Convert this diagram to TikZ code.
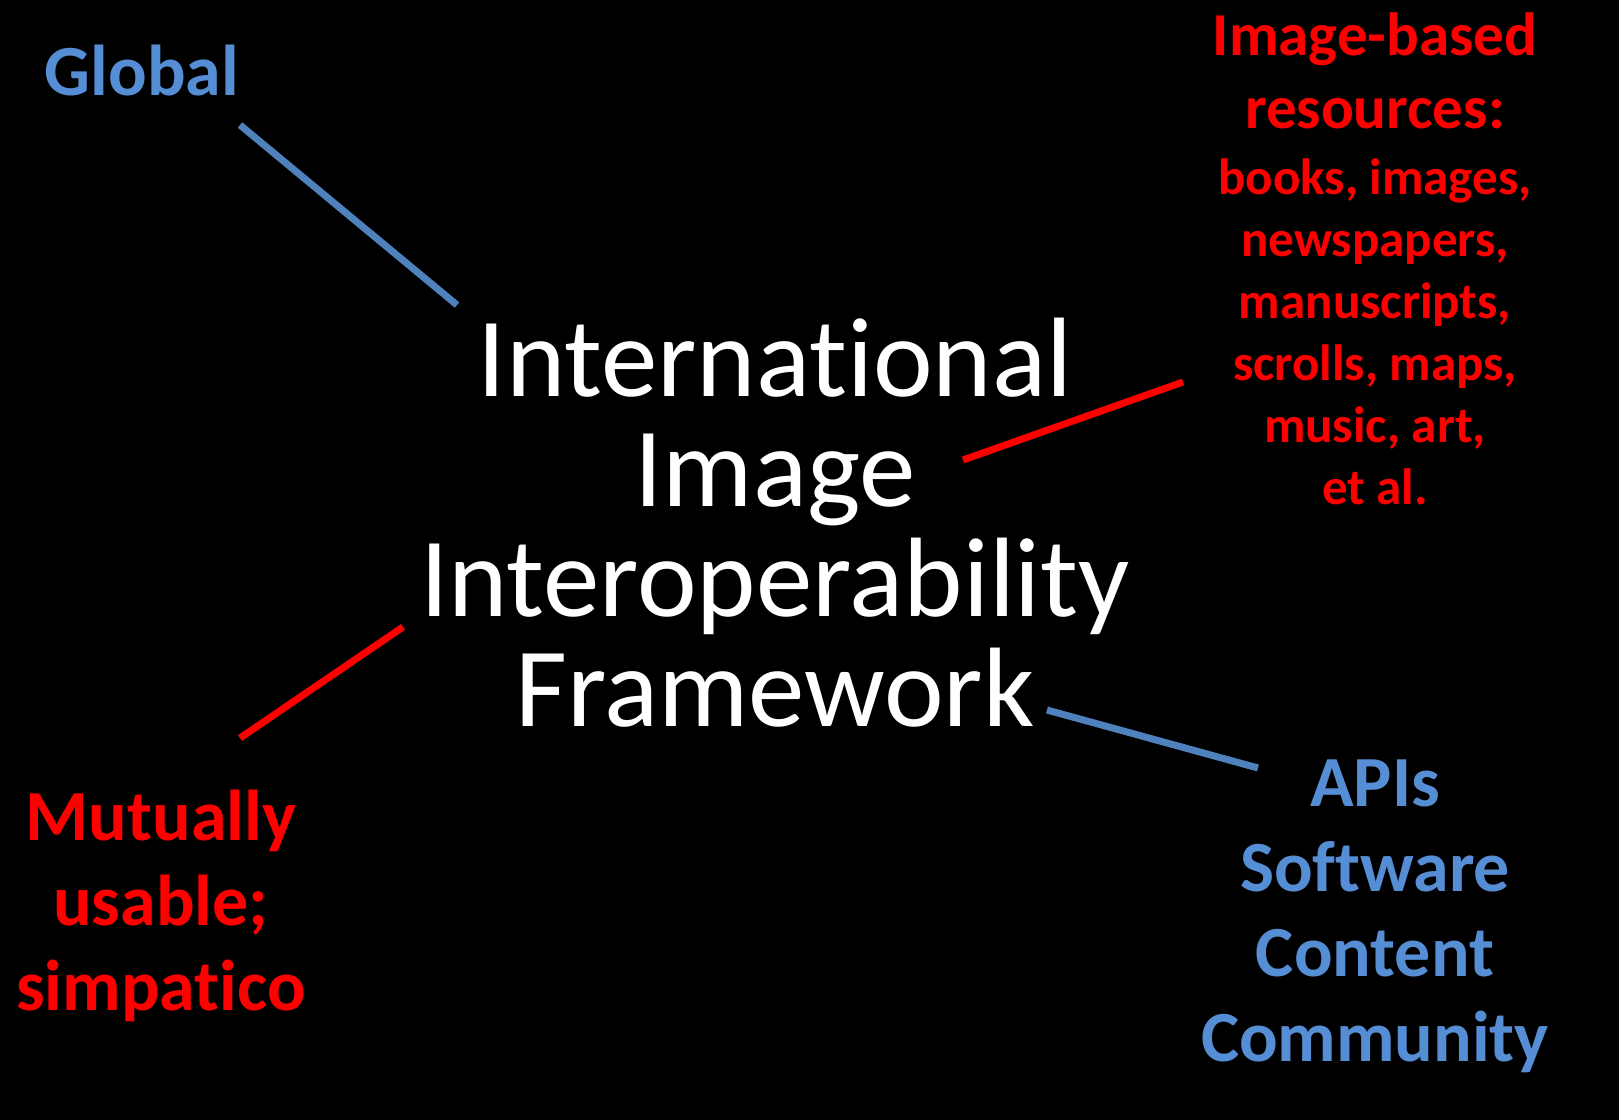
\documentclass[tikz,border=0pt]{standalone}
\usepackage{fontspec}
\setmainfont[Ligatures=NoCommon]{Carlito}
\usetikzlibrary{positioning}
\definecolor{iiifred}{HTML}{FF0000}
\definecolor{iiifblue}{HTML}{558ED5}
\definecolor{linkblue}{HTML}{4F81BD}
\tikzset{
    lbl/.style={align=center,inner sep=0pt,font=\bfseries\fontsize{36}{42.5}\selectfont},
    link/.style={line width=3.5pt}
}
\begin{document}
\begin{tikzpicture}[x=0.5pt,y=-0.5pt]
    \fill[black](0,0) rectangle (1619,1120);

    \node[white,align=center,inner sep=0pt,anchor=north,font=\fontsize{56.5}{55}\selectfont] (iiif) at (775,318) {International\\Image\\Interoperability\\Framework};

    \node[lbl,iiifblue,anchor=base] (global) at (142,95) {Global};
    \node[lbl,iiifred,anchor=north,font=\bfseries\fontsize{30.5}{36.5}\selectfont] (reshead) at (1375,12) {Image-based\\resources:};
    \node[lbl,iiifred,below=14.5pt of reshead,font=\bfseries\fontsize{25.5}{31}\selectfont] (reslist) {books, images,\\newspapers,\\manuscripts,\\scrolls, maps,\\music, art,\\et al.};
    \node[lbl,iiifred,anchor=north] (mutual) at (161,790) {Mutually\\usable;\\simpatico};
    \node[lbl,iiifblue,anchor=north] (apis) at (1375,759) {APIs\\Software\\Content\\Community};

    \coordinate (g1) at (240,125); \coordinate (g2) at (457,305);
    \coordinate (r1) at (963,460); \coordinate (r2) at (1183,382);
    \coordinate (m1) at (240,738); \coordinate (m2) at (403,627);
    \coordinate (a1) at (1047,710); \coordinate (a2) at (1258,768);

    \draw [link,linkblue](g1) -- (g2);
    \draw [link,iiifred](r1) -- (r2);
    \draw [link,iiifred](m1) -- (m2);
    \draw [link,linkblue](a1) -- (a2);
\end{tikzpicture}
\end{document}
